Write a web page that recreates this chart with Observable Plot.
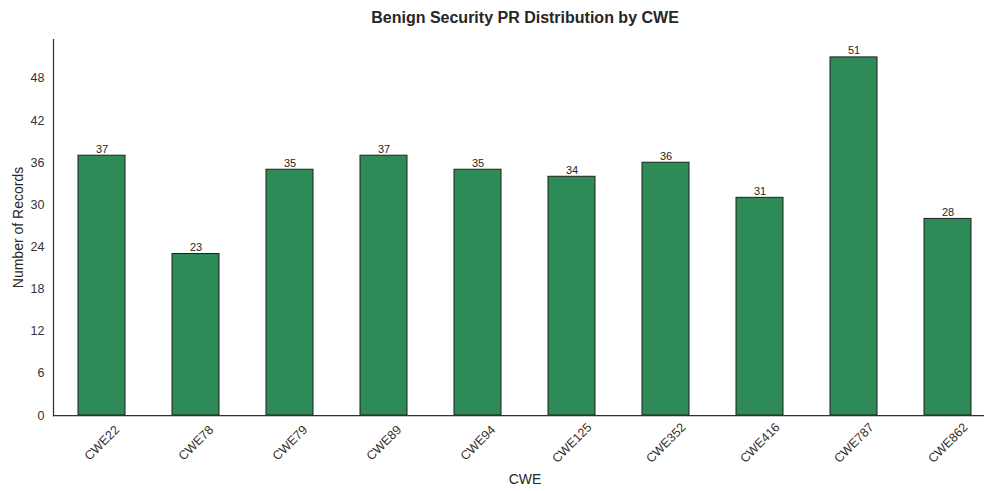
<!DOCTYPE html>
<html>
<head>
<meta charset="utf-8">
<script src="https://cdn.jsdelivr.net/npm/d3@7"></script>
<script src="https://cdn.jsdelivr.net/npm/@observablehq/plot@0.6"></script>
<style>
  html, body { margin: 0; padding: 0; background: #fff; }
</style>
</head>
<body>
<div id="chart"></div>
<script>
const categories = ["CWE22", "CWE78", "CWE79", "CWE89", "CWE94", "CWE125", "CWE352", "CWE416", "CWE787", "CWE862"];
const counts = [37, 23, 35, 37, 35, 34, 36, 31, 51, 28];
const yTicks = [0, 6, 12, 18, 24, 30, 36, 42, 48];
const title = "Benign Security PR Distribution by CWE";
const xLabel = "CWE";
const yLabel = "Number of Records";

const data = categories.map((c, i) => ({cwe: c, n: counts[i]}));
const font = "'Liberation Sans', Arial, Helvetica, sans-serif";

const chart = Plot.plot({
  width: 984,
  height: 491,
  marginTop: 39,
  marginBottom: 76,
  marginLeft: 53,
  marginRight: -12,
  style: {fontFamily: font, fontSize: "12px", color: "#333", background: "#fff", overflow: "visible"},
  x: {domain: categories, paddingInner: 0.5, paddingOuter: 0.25, axis: null},
  y: {domain: [0, 53.55], axis: null},
  marks: [
    Plot.barY(data, {x: "cwe", y: "n", fill: "#2E8B57", stroke: "#1f1f1f", strokeWidth: 1}),
    Plot.text(data, {x: "cwe", y: "n", text: d => String(d.n), lineAnchor: "bottom", dy: -3, fontSize: 11, fill: "#262626"}),
    Plot.axisY(yTicks, {tickSize: 0, tickPadding: 9, label: null, fontSize: 12.5, fill: "#333"}),
    Plot.text(categories, {x: d => d, frameAnchor: "bottom", dy: 27.5, rotate: -45, textAnchor: "middle", lineAnchor: "middle", fontSize: 12.5, fill: "#333"}),
    Plot.ruleY([0], {stroke: "#333", strokeWidth: 1.25}),
    Plot.frame({anchor: "left", stroke: "#333", strokeWidth: 1.25}),
    Plot.text([xLabel], {frameAnchor: "bottom", dy: 64, fontSize: 14, fill: "#262626", textAnchor: "middle", lineAnchor: "middle"}),
    Plot.text([yLabel], {frameAnchor: "left", dx: -35, rotate: -90, fontSize: 14, fill: "#262626", textAnchor: "middle", lineAnchor: "middle"}),
    Plot.text([title], {frameAnchor: "top", dy: -22, fontSize: 16, fontWeight: "bold", fill: "#262626", textAnchor: "middle", lineAnchor: "middle"})
  ]
});
document.getElementById("chart").appendChild(chart);
</script>
</body>
</html>
